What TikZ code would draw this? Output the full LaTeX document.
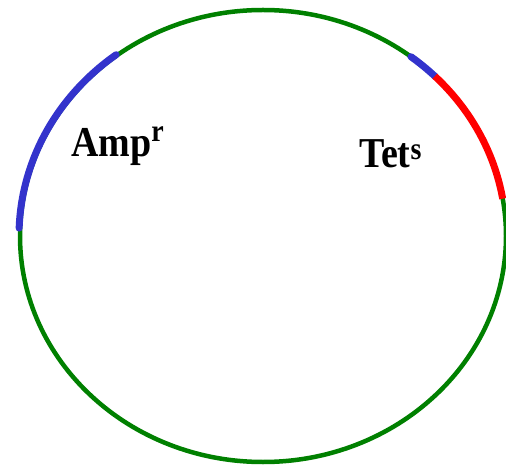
\documentclass[tikz,border=0pt]{standalone}
\usepackage{fontspec}
\usepackage{graphicx}
\setmainfont{Liberation Serif}
\definecolor{ringgreen}{HTML}{008000}
\definecolor{genblue}{HTML}{3333CC}
\definecolor{genred}{HTML}{FF0000}
\newcommand{\supr}[2]{\raisebox{#1}{\fontsize{28}{28}\selectfont #2}}
\begin{document}
\begin{tikzpicture}[x=1pt,y=1pt,
  ring/.style={draw=ringgreen,line width=4.5pt},
  gene/.style={line width=7pt,line cap=round},
  lbl/.style={anchor=base west,inner sep=0pt,font=\fontsize{38}{40}\selectfont\bfseries}]
\useasboundingbox (0,0) rectangle (506,469);
\coordinate (c) at (263,233);
\draw[ring] (c) ellipse [x radius=243, y radius=226];
\draw[gene,genblue] (c) ++(127:244 and 227) arc[start angle=127,end angle=178,x radius=244,y radius=227];
\draw[gene,genblue] (c) ++(52.5:243 and 226) arc[start angle=52.5,end angle=45,x radius=243,y radius=226];
\draw[gene,genred,line cap=butt] (c) ++(45:243 and 226) arc[start angle=45,end angle=9.5,x radius=243,y radius=226];
\node[lbl] (amp) at (71,312) {\scalebox{1}[1.12]{Amp\supr{14pt}{r}}};
\node[lbl] (tet) at (359,301) {\scalebox{1}[1.12]{Tet\supr{8pt}{s}}};
\end{tikzpicture}
\end{document}
